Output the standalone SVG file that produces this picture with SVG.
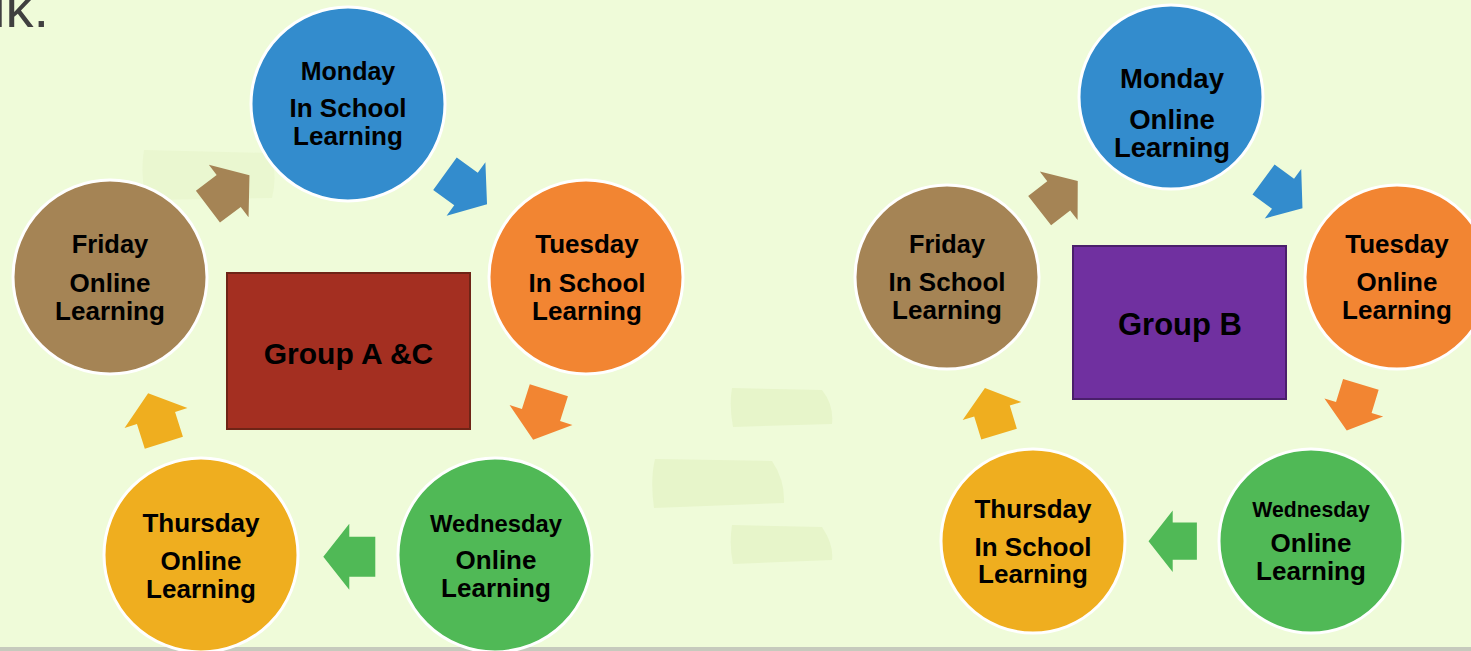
<svg xmlns="http://www.w3.org/2000/svg" width="1471" height="651" viewBox="0 0 1471 651">
<defs>
<style>
.bg{fill:#effbd9}
.patch{fill:#e7f5ca}
.c{stroke:#ffffff;stroke-width:3}
.blue{fill:#338ccd}
.orange{fill:#f28532}
.green{fill:#50b956}
.yellow{fill:#efae1f}
.brown{fill:#a58455}
.t{font-family:"Liberation Sans",Arial,sans-serif;font-weight:bold;fill:#000;text-anchor:middle}
</style>
<polygon id="arr" points="-26,-20 0,-20 0,-33 26,0 0,33 0,20 -26,20"/>
</defs>
<rect class="bg" x="0" y="0" width="1471" height="651"/>
<g id="decor">
<path d="M144,150 L270,153 Q278,175 272,198 L146,200 Q140,175 144,150Z" fill="#eaf7d0"/>
<path class="patch" d="M732,388 L822,390 Q834,405 832,424 L733,427 Q729,405 732,388Z"/>
<path class="patch" d="M655,459 L772,461 Q785,480 784,503 L654,508 Q650,480 655,459Z"/>
<path class="patch" d="M732,525 L822,527 Q834,545 832,560 L733,564 Q729,545 732,525Z"/>
<rect x="0" y="647" width="1471" height="4" fill="#c6cabd"/>
</g>
<text x="-7" y="27" font-family="Liberation Sans,Arial,sans-serif" font-size="56" fill="#404040">lk.</text>

<g id="connectors">
<use href="#arr" class="brown" transform="translate(228.7,191) rotate(-37)"/>
<use href="#arr" class="blue" transform="translate(466,189) rotate(36)"/>
<use href="#arr" class="orange" transform="translate(541,415) rotate(107.6)"/>
<use href="#arr" class="green" transform="translate(349.3,556.7) rotate(180)"/>
<use href="#arr" class="yellow" transform="translate(156,418) rotate(-107.6)"/>
<use href="#arr" class="brown" transform="translate(1058.7,195.8) rotate(-38) scale(0.93)"/>
<use href="#arr" class="blue" transform="translate(1283,193.8) rotate(36.4) scale(0.93)"/>
<use href="#arr" class="orange" transform="translate(1353.8,407.5) rotate(107) scale(0.93)"/>
<use href="#arr" class="green" transform="translate(1172.7,541.2) rotate(180) scale(0.93)"/>
<use href="#arr" class="yellow" transform="translate(992,411) rotate(-107) scale(0.93)"/>
</g>

<g id="groupAC">
<rect x="227" y="273" width="243" height="156" fill="#a42f21" stroke="#6e2416" stroke-width="2"/>
<text class="t" x="348.5" y="364" font-size="30">Group A &amp;C</text>
</g>
<g id="a-monday">
<circle class="c blue" cx="348" cy="104" r="97"/>
<text class="t" x="348" y="80" font-size="25">Monday</text>
<text class="t" x="348" y="117" font-size="26">In School</text>
<text class="t" x="348" y="145" font-size="26">Learning</text>
</g>
<g id="a-tuesday">
<circle class="c orange" cx="586" cy="277" r="97"/>
<text class="t" x="587" y="253" font-size="26">Tuesday</text>
<text class="t" x="587" y="292" font-size="26">In School</text>
<text class="t" x="587" y="320" font-size="26">Learning</text>
</g>
<g id="a-wednesday">
<circle class="c green" cx="495" cy="555" r="97"/>
<text class="t" x="496" y="532" font-size="23.8">Wednesday</text>
<text class="t" x="496" y="569" font-size="26">Online</text>
<text class="t" x="496" y="597" font-size="26">Learning</text>
</g>
<g id="a-thursday">
<circle class="c yellow" cx="201" cy="555" r="97"/>
<text class="t" x="201" y="532" font-size="26">Thursday</text>
<text class="t" x="201" y="570" font-size="26">Online</text>
<text class="t" x="201" y="598" font-size="26">Learning</text>
</g>
<g id="a-friday">
<circle class="c brown" cx="110" cy="277" r="97"/>
<text class="t" x="110" y="253" font-size="25.5">Friday</text>
<text class="t" x="110" y="292" font-size="26">Online</text>
<text class="t" x="110" y="320" font-size="26">Learning</text>
</g>

<g id="groupB">
<rect x="1073" y="246" width="213" height="153" fill="#7030a0" stroke="#4a1f6b" stroke-width="2"/>
<text class="t" x="1180" y="335" font-size="31">Group B</text>
</g>
<g id="b-monday">
<circle class="c blue" cx="1171" cy="97" r="92"/>
<text class="t" x="1172" y="88" font-size="27.5">Monday</text>
<text class="t" x="1172" y="129" font-size="27.5">Online</text>
<text class="t" x="1172" y="157" font-size="27.5">Learning</text>
</g>
<g id="b-tuesday">
<circle class="c orange" cx="1397" cy="277" r="92"/>
<text class="t" x="1397" y="253" font-size="26">Tuesday</text>
<text class="t" x="1397" y="291" font-size="26">Online</text>
<text class="t" x="1397" y="319" font-size="26">Learning</text>
</g>
<g id="b-wednesday">
<circle class="c green" cx="1311" cy="541" r="92"/>
<text class="t" x="1311" y="517" font-size="21.2">Wednesday</text>
<text class="t" x="1311" y="552" font-size="26">Online</text>
<text class="t" x="1311" y="580" font-size="26">Learning</text>
</g>
<g id="b-thursday">
<circle class="c yellow" cx="1033" cy="541" r="92"/>
<text class="t" x="1033" y="518" font-size="26">Thursday</text>
<text class="t" x="1033" y="556" font-size="26">In School</text>
<text class="t" x="1033" y="583" font-size="26">Learning</text>
</g>
<g id="b-friday">
<circle class="c brown" cx="947" cy="277" r="92"/>
<text class="t" x="947" y="253" font-size="25.3">Friday</text>
<text class="t" x="947" y="291" font-size="26">In School</text>
<text class="t" x="947" y="319" font-size="26">Learning</text>
</g>
</svg>
